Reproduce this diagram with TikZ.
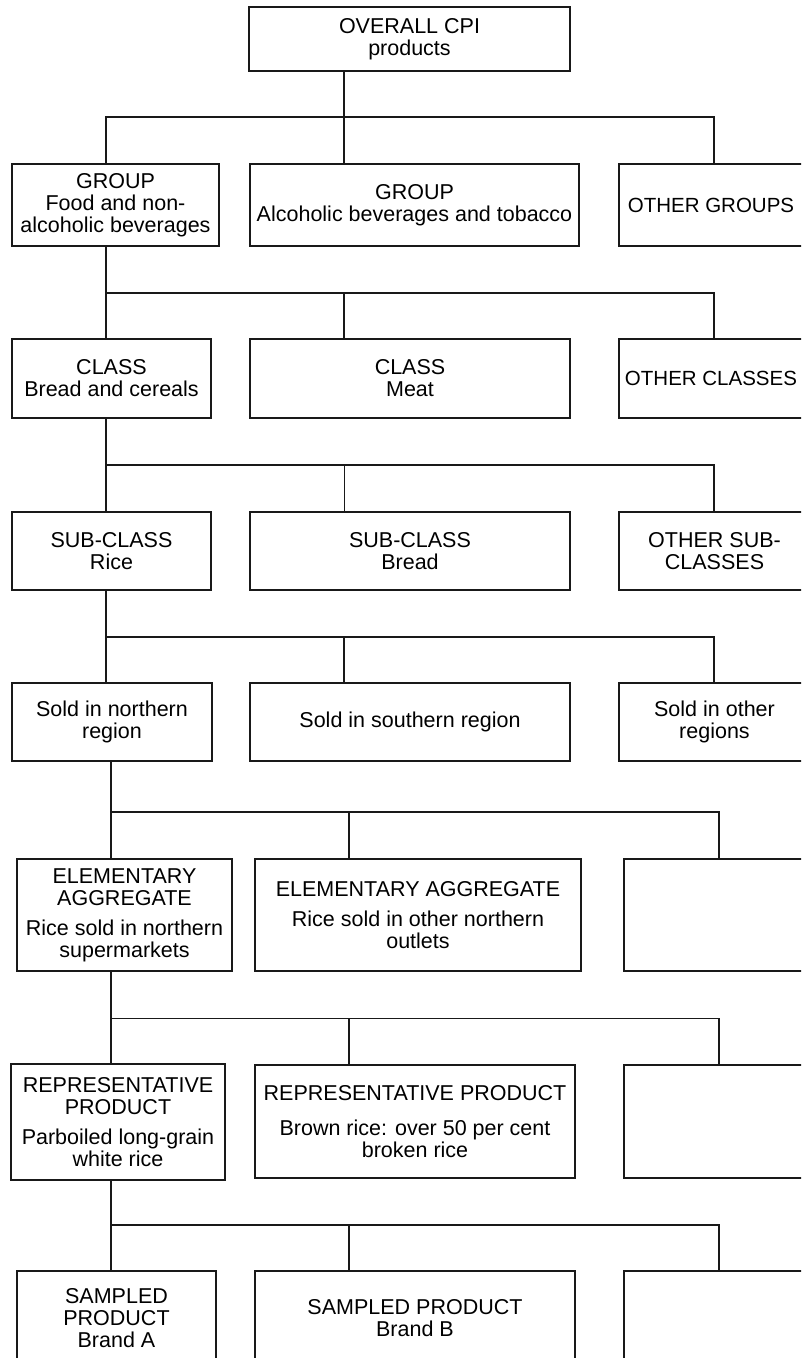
\documentclass[tikz,border=0pt]{standalone}
\usepackage{fontspec}
\setmainfont{Liberation Sans}
\usepackage{tikz}

\tikzset{
  catbox/.style={draw=black!90, line width=2pt, align=center, inner sep=0pt, outer sep=0pt,
    font=\fontsize{21.5}{22}\selectfont},
  link/.style={draw=black!90, line width=1.6pt},
  thinlink/.style={draw=black!90, line width=0.8pt}
}

\begin{document}
\begin{tikzpicture}[x=1pt,y=-1pt]
\useasboundingbox (0,0) rectangle (801,1358);
\clip (0,0) rectangle (801,1358);
\coordinate (mA) at (106,0);
\coordinate (mB) at (344,0);
\coordinate (mC) at (714,0);
\coordinate (mD) at (111,0);
\coordinate (mE) at (349,0);
\coordinate (mF) at (719,0);
\coordinate (bus1) at (0,117);
\coordinate (bus2) at (0,293);
\coordinate (bus3) at (0,465);
\coordinate (bus4) at (0,637);
\coordinate (bus5) at (0,812);
\coordinate (bus6) at (0,1018.5);
\coordinate (bus7) at (0,1225);

\node[catbox, minimum width=321, minimum height=64] (cpi) at (409.5,39) {OVERALL CPI\\products};

\node[catbox, minimum width=207, minimum height=82] (grpA) at (115.5,205) {GROUP\\Food and non-\\alcoholic beverages};
\node[catbox, minimum width=329, minimum height=82] (grpB) at (414.5,205) {GROUP\\Alcoholic beverages and tobacco};
\node[catbox, minimum width=184, minimum height=82, font=\fontsize{20.5}{22}\selectfont] (grpC) at (711,205) {OTHER GROUPS};

\node[catbox, minimum width=199, minimum height=79] (clsA) at (111.5,378.5) {CLASS\\Bread and cereals};
\node[catbox, minimum width=320, minimum height=79] (clsB) at (410,378.5) {CLASS\\Meat};
\node[catbox, minimum width=184, minimum height=79, font=\fontsize{20.5}{22}\selectfont] (clsC) at (711,378.5) {OTHER CLASSES};

\node[catbox, minimum width=199, minimum height=78] (subA) at (111.5,551) {SUB-CLASS\\Rice};
\node[catbox, minimum width=320, minimum height=78] (subB) at (410,551) {SUB-CLASS\\Bread};
\node[catbox, minimum width=191, minimum height=78] (subC) at (714.5,551) {OTHER SUB-\\CLASSES};

\node[catbox, minimum width=200, minimum height=78] (regA) at (112,722) {Sold in northern\\region};
\node[catbox, minimum width=320, minimum height=78] (regB) at (410,722) {Sold in southern region};
\node[catbox, minimum width=191, minimum height=78] (regC) at (714.5,722) {Sold in other\\regions};

\node[catbox, minimum width=215, minimum height=112] (eaA) at (124.5,915) {ELEMENTARY\\AGGREGATE\\[8pt]Rice sold in northern\\supermarkets};
\node[catbox, minimum width=326, minimum height=112] (eaB) at (418,915) {ELEMENTARY AGGREGATE\\[8pt]Rice sold in other northern\\outlets};
\node[catbox, minimum width=186, minimum height=112] (eaC) at (717,915) {};

\node[catbox, minimum width=214, minimum height=116] (repA) at (118,1122) {REPRESENTATIVE\\PRODUCT\\[8pt]Parboiled long-grain\\white rice};
\node[catbox, minimum width=320, minimum height=113] (repB) at (415,1121.5) {REPRESENTATIVE PRODUCT\\[13pt]Brown rice: over 50 per cent\\broken rice};
\node[catbox, minimum width=186, minimum height=113] (repC) at (717,1121.5) {};

\node[catbox, minimum width=199, minimum height=95] (smpA) at (116.5,1318.5) {SAMPLED\\PRODUCT\\Brand A};
\node[catbox, minimum width=320, minimum height=95] (smpB) at (415,1318.5) {SAMPLED PRODUCT\\Brand B};
\node[catbox, minimum width=186, minimum height=95] (smpC) at (717,1318.5) {};

\draw[link] (cpi.south -| mB) to (grpB.north -| mB);
\draw[link] (grpA.north -| mA) -- (bus1 -| mA) -- (bus1 -| mC) -- (grpC.north -| mC);

\draw[link] (grpA.south -| mA) to (clsA.north -| mA);
\draw[link] (bus2 -| mA) -- (bus2 -| mC) -- (clsC.north -| mC);
\draw[link] (bus2 -| mB) to (clsB.north -| mB);

\draw[link] (clsA.south -| mA) to (subA.north -| mA);
\draw[link] (bus3 -| mA) -- (bus3 -| mC) -- (subC.north -| mC);
\draw[thinlink] (bus3 -| mB) to (subB.north -| mB);

\draw[link] (subA.south -| mA) to (regA.north -| mA);
\draw[link] (bus4 -| mA) -- (bus4 -| mC) -- (regC.north -| mC);
\draw[link] (bus4 -| mB) to (regB.north -| mB);

\draw[link] (regA.south -| mD) to (eaA.north -| mD);
\draw[link] (bus5 -| mD) -- (bus5 -| mF) -- (eaC.north -| mF);
\draw[link] (bus5 -| mE) to (eaB.north -| mE);

\draw[link] (eaA.south -| mD) to (repA.north -| mD);
\draw[link] (bus6 -| mD) -- (bus6 -| mF) -- (repC.north -| mF);
\draw[link] (bus6 -| mE) to (repB.north -| mE);

\draw[link] (repA.south -| mD) to (smpA.north -| mD);
\draw[link] (bus7 -| mD) -- (bus7 -| mF) -- (smpC.north -| mF);
\draw[link] (bus7 -| mE) to (smpB.north -| mE);
\end{tikzpicture}
\end{document}
